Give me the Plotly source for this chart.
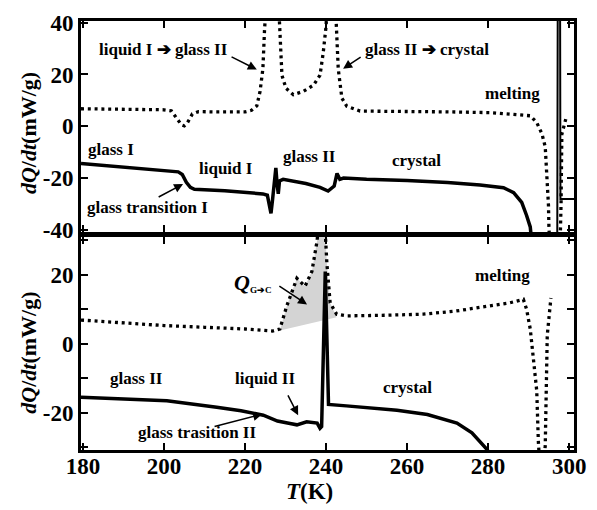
import plotly.graph_objects as go

# ---------------- data ----------------
# top panel, dotted curve
T_top_dot = [179.5, 190, 200, 201.8, 203, 204.3, 205, 205.8, 207, 208.5, 212, 216, 220, 221.6, 222.9, 223.7,
             224.4, 224.8, 226.5, 228.5, 229.1, 230.1, 231.9, 234.4, 236.9, 238.5, 239.3, 240.0, 241.3,
             242.5, 243.0, 243.9, 245.1, 248.4, 260, 270, 280.5, 288.6, 290.4, 292.0, 293.3, 294.1, 294.5,
             294.9, 295.0, 295.3, 297.7, 298.0, 298.2, 299.2, 299.8]
Q_top_dot = [6.8, 6.6, 6.4, 6.0, 3.5, 0.6, 0.2, 1.5, 4.8, 5.7, 5.6, 5.5, 5.6, 6.2, 7.9, 13.5,
             22.2, 37.0, 80.0, 40.0, 19.7, 14.7, 12.2, 13.5, 15.9, 19.7, 28.5, 38.6, 80.0,
             40.0, 22.2, 10.9, 7.8, 5.9, 5.8, 5.6, 5.3, 4.5, 4.1, 1.5, -2.9, -7.9, -18.0,
             -30.5, -38.0, -50.0, -50.0, -30.0, -3.0, 3.0, 3.0]

# top panel, solid curve
T_top_sol = [179.5, 190, 200, 203.5, 204.5, 205.5, 206.5, 207.5, 215, 224.4, 225.5, 226.0, 226.4, 226.8,
             227.2, 227.6, 227.9, 228.2, 228.5, 229.4, 235, 238.5, 240.5, 242.0, 242.7, 243.4, 244.3,
             250, 260, 270, 278, 283.8, 286.3, 288.3, 289.5, 290.4, 291.0]
Q_top_sol = [-14.3, -15.6, -16.8, -17.5, -18.5, -21.5, -23.5, -24.2, -24.8, -26.0, -26.5, -30.0, -33.5, -28.0,
             -22.0, -16.0, -22.0, -26.0, -21.0, -20.4, -22.0, -23.5, -24.9, -23.0, -18.1, -20.4, -19.9,
             -20.4, -20.8, -21.6, -22.6, -23.6, -25.5, -29.3, -34.3, -38.7, -48.0]
# top panel, solid curve: melting peak (off scale) and tail
T_top_melt = [297.05, 297.2, 297.75, 297.85, 301.2]
Q_top_melt = [-60.0, 60.0, 60.0, -28.0, -28.0]

# bottom panel, dotted curve
T_bot_dot = [179.5, 190, 200, 210, 220, 226.8, 228.6, 230.3, 232.8, 234.8, 236.5, 237.8, 239.0, 240.2,
             241.0, 242.6, 245.1, 255, 264, 272, 280.5, 285.4, 288.7, 289.5, 290.4, 291.2, 292.0, 292.4,
             293.0, 294.1, 294.3, 294.6, 295.5]
Q_bot_dot = [6.9, 6.0, 5.3, 4.8, 4.3, 3.7, 4.3, 11.0, 19.0, 16.7, 21.0, 30.0, 50.0, 23.3,
             11.9, 8.6, 8.1, 8.3, 8.6, 9.5, 11.0, 11.9, 12.9, 10.0, 4.3, -5.1, -13.6, -28.3,
             -40.0, -29.7, -11.7, 2.5, 13.3]

# bottom panel, solid curve
T_bot_sol = [179.5, 190, 200.7, 213, 219, 224.5, 228, 231.1, 232.8, 235.2, 237.8, 238.5, 238.9, 239.8,
             240.6, 245, 257.5, 265, 272.3, 276, 279.7, 281]
Q_bot_sol = [-15.5, -15.9, -16.5, -18.4, -19.4, -20.7, -22.4, -23.1, -23.5, -22.6, -23.0, -24.5, -24.0, 21.0,
             -17.6, -18.0, -19.3, -20.5, -23.0, -25.8, -30.6, -33.0]

# shaded Q_G->C region limits
shade_T = [228.6, 242.6]
shade_Q_base = [3.9, 7.7]

x_ticks = [180, 200, 220, 240, 260, 280, 300]
top_y_ticks = [-40, -20, 0, 20, 40]
bot_y_ticks = [-20, 0, 20]

FONT = "Liberation Serif"
DOT = "3px,3.8px"

fig = go.Figure()

# shaded area (bottom panel)
sel = [(t, q) for t, q in zip(T_bot_dot, Q_bot_dot) if shade_T[0] < t < shade_T[1]]
sh_T = [shade_T[0]] + [t for t, q in sel] + [shade_T[1], shade_T[0]]
sh_Q = [shade_Q_base[0]] + [q for t, q in sel] + [shade_Q_base[1], shade_Q_base[0]]
fig.add_trace(go.Scatter(x=sh_T, y=sh_Q, fill="toself",
                         fillcolor="#d4d4d4", line=dict(width=0), mode="lines",
                         xaxis="x", yaxis="y", hoverinfo="skip"))

fig.add_trace(go.Scatter(x=T_top_dot, y=Q_top_dot, mode="lines",
                         line=dict(color="black", width=3.3, dash=DOT), xaxis="x2", yaxis="y2"))
fig.add_trace(go.Scatter(x=T_top_sol, y=Q_top_sol, mode="lines",
                         line=dict(color="black", width=3.5), xaxis="x2", yaxis="y2"))
fig.add_trace(go.Scatter(x=T_top_melt, y=Q_top_melt, mode="lines",
                         line=dict(color="black", width=2), xaxis="x2", yaxis="y2"))
fig.add_trace(go.Scatter(x=T_bot_dot, y=Q_bot_dot, mode="lines",
                         line=dict(color="black", width=3.3, dash=DOT), xaxis="x", yaxis="y"))
fig.add_trace(go.Scatter(x=T_bot_sol, y=Q_bot_sol, mode="lines",
                         line=dict(color="black", width=3.5), xaxis="x", yaxis="y"))

axis_common = dict(showline=True, linewidth=3, linecolor="black", mirror="ticks",
                   ticks="inside", ticklen=7, tickwidth=2, tickcolor="black",
                   showgrid=False, zeroline=False,
                   tickfont=dict(family=FONT, size=23, color="black"))

XR = [179.5, 301.2]

def lab(v):
    return "<b>%s</b>" % (str(v) if v >= 0 else "-" + str(-v))

fig.update_layout(
    width=597, height=510,
    margin=dict(l=81, r=23, t=11, b=60),
    paper_bgcolor="white", plot_bgcolor="white",
    showlegend=False,
    font=dict(family=FONT, color="black"),
    xaxis=dict(range=XR, domain=[0, 1], anchor="y", tickvals=x_ticks,
               ticktext=[lab(v) for v in x_ticks], ticklabelstandoff=-7, **axis_common),
    yaxis=dict(range=[-30.8, 31], domain=[0, 0.4966], anchor="x", tickvals=bot_y_ticks,
               ticktext=[lab(v) for v in bot_y_ticks],
               minor=dict(dtick=10, tick0=0, ticks="inside", ticklen=7, tickwidth=2, tickcolor="black"),
               **axis_common),
    xaxis2=dict(range=XR, domain=[0, 1], anchor="y2", tickvals=x_ticks, showticklabels=False, **axis_common),
    yaxis2=dict(range=[-40.7, 40.6], domain=[0.508, 1], anchor="x2", tickvals=top_y_ticks,
                ticktext=[lab(v) for v in top_y_ticks], **axis_common),
)

ann = []
def txt(x, y, s, ref="2", size=17):
    ann.append(dict(x=x, y=y, xref="x" + ("2" if ref == "2" else ""), yref="y" + ("2" if ref == "2" else ""),
                    text="<b>%s</b>" % s, showarrow=False, xanchor="center", yanchor="middle",
                    font=dict(family=FONT, size=size, color="black")))

def arrow(x0, y0, x1, y1, ref="2"):
    xr = "x" + ("2" if ref == "2" else "")
    yr = "y" + ("2" if ref == "2" else "")
    ann.append(dict(x=x1, y=y1, ax=x0, ay=y0, xref=xr, yref=yr, axref=xr, ayref=yr, text="",
                    showarrow=True, arrowhead=2, arrowsize=1.2, arrowwidth=1.5, arrowcolor="black"))

# top panel labels
txt(199.8, 29.8, "liquid I ➔ glass II")
arrow(216.3, 27.1, 222.9, 21.9)
txt(264.9, 29.8, "glass II ➔ crystal")
arrow(248.9, 27.1, 244.2, 22.2)
txt(285.9, 12.8, "melting")
txt(186.9, -9.0, "glass I")
txt(215.3, -16.2, "liquid I")
txt(195.8, -31.3, "glass transition I")
arrow(198.3, -27.5, 204.7, -22.2)
txt(235.8, -11.7, "glass II")
txt(262.2, -13.2, "crystal")

# bottom panel labels
ann.append(dict(x=222.0, y=17.9, xref="x", yref="y", showarrow=False, xanchor="center", yanchor="middle",
                text="<b><i>Q</i></b><span style='font-size:13px'><b><sub>G➔C</sub></b></span>",
                font=dict(family=FONT, size=22, color="black")))
arrow(228.1, 17.0, 235.3, 11.4, ref="1")
txt(283.5, 19.9, "melting", ref="1")
txt(193.3, -10.2, "glass II", ref="1")
txt(224.9, -10.2, "liquid II", ref="1")
arrow(230.4, -14.5, 233.1, -20.7, ref="1")
txt(208.1, -25.8, "glass trasition II", ref="1")
arrow(212.1, -24.1, 224.2, -20.4, ref="1")
txt(260.0, -12.8, "crystal", ref="1")

# axis titles
for yc in (0.74, 0.228):
    ann.append(dict(x=-0.1065, y=yc, xref="paper", yref="paper", textangle=-90, showarrow=False,
                    xanchor="center", yanchor="middle",
                    text="<b><i>dQ</i>/<i>dt</i>(mW/g)</b>", font=dict(family=FONT, size=22, color="black")))
ann.append(dict(x=0.4625, y=-0.097, xref="paper", yref="paper", showarrow=False,
                xanchor="center", yanchor="middle",
                text="<b><i>T</i>(K)</b>", font=dict(family=FONT, size=23, color="black")))

fig.update_layout(annotations=ann)
fig.write_html("out.html")
